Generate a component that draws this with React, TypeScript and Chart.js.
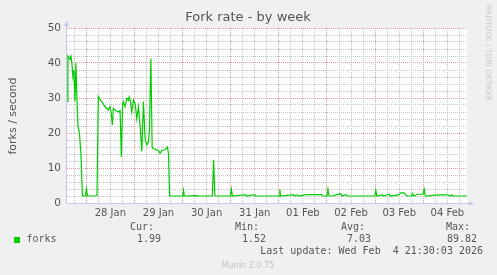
import React, { useEffect, useRef } from "react";
import { Chart, registerables } from "chart.js";

Chart.register(...registerables);

// Hours relative to 28 Jan 00:00
const hours: number[] = [
  -9.6, -9.15, -8.65, -8.15, -7.65, -7.15, -6.65, -6.15, -5.65, -5.15, -4.65, -4.15, -3.4, -2.65, -1.9,
  -0.4, 0.1, 0.6, 4.85, 5.35, 6.0, 6.35, 7.7, 9.35, 11.0, 11.85, 12.35, 13.0, 13.5, 14.35, 16.0, 16.85,
  17.5, 18.1, 18.5, 19.35, 20.2, 21.0, 21.35, 21.85, 22.7, 23.5, 24.35, 25.2, 26.0, 26.85, 27.7, 28.5,
  29.35, 30.2, 31.0, 31.5, 32.2, 32.85, 33.35, 34.35, 35.35, 36.0, 36.85, 37.7, 39.35, 40.5, 41.0, 41.5,
  48.1, 48.5, 48.85, 55.35, 55.85, 62.85, 63.5, 64.1, 64.6, 71.85, 72.35, 72.85, 79.35, 79.85, 84.0, 84.35,
  96.1, 96.5, 96.85, 103.2, 103.7, 105.3, 105.8, 108.85, 110.2, 117.3, 117.8, 120.0, 120.5, 121.0,
  122.5, 126.85, 127.5, 129.35, 130.0, 135.0, 143.85, 144.35, 144.85, 147.7, 148.2, 151.0, 151.5,
  155.85, 156.8, 158.4, 159.35, 160.0, 162.2, 162.7, 163.2, 165.35, 167.85, 168.5, 169.0, 175.35, 180.35,
  181.5, 182.2, 182.9, 189.8,
];

const forks: number[] = [
  29, 42, 41.5, 41, 42, 40, 36, 38, 29, 40, 30, 22, 20, 14, 2,
  2, 4, 2, 2, 2.3, 30.4, 30, 29, 27.5, 26.6, 27.5, 26, 22.3, 27, 26.6, 26, 26.4,
  13.2, 28, 29, 27.5, 29.9, 29.3, 30.3, 29.5, 26, 29.4, 28.5, 24, 27.5, 22, 14.7, 29,
  18, 16.6, 17.5, 21, 41.3, 16, 15.5, 15.4, 15, 15, 14.2, 15, 15.2, 16, 14, 2,
  2, 3.6, 2, 2.1, 2, 2, 12.3, 2.2, 2, 2, 3.9, 2, 2.4, 2, 2.4, 2,
  2, 3.9, 2, 2.4, 2, 2.3, 2, 2.3, 2.4, 2.4, 2, 2, 3.9, 2,
  2, 2.7, 2, 2.4, 2, 2, 2, 3.6, 2, 2.3, 2, 2.5, 2,
  2.3, 2.9, 2.9, 2.3, 2, 2, 2.7, 2, 2.5, 2.5, 3.9, 2, 2.3, 2.3,
  2, 2.3, 2, 2,
];

const dayLabels: string[] = ["28 Jan", "29 Jan", "30 Jan", "31 Jan", "01 Feb", "02 Feb", "03 Feb", "04 Feb"];
const statHeaders: string[] = ["Cur:", "Min:", "Avg:", "Max:"];
const statValues: string[] = ["1.99", "1.52", "7.03", "89.82"];
const seriesName = "forks";
const titleText = "Fork rate - by week";
const yAxisTitle = "forks / second";
const lastUpdate = "Last update: Wed Feb  4 21:30:03 2026";
const footerText = "Munin 2.0.75";
const sideText = "RRDTOOL / TOBI OETIKER";

const X_MIN = -9.6;
const X_MAX = 189.8;
const Y_MAX = 50;
const Y_MINOR = 2;
const Y_MAJOR = 10;
const X_STEP = 6;
const GREEN = "#00CC00";
const MAJOR = "#E39A9A";
const MINOR = "#C4C4C4";
const AXIS = "#C8C8F0";

const isMajorHour = (h: number) => ((h % 24) + 24) % 24 === 0;

const decorPlugin = {
  id: "muninDecor",
  beforeDraw(chart: any) {
    const { ctx, chartArea } = chart;
    ctx.save();
    ctx.fillStyle = "#F0F0F0";
    ctx.fillRect(0, 0, chart.width, chart.height);
    ctx.fillStyle = "#FFFFFF";
    ctx.fillRect(chartArea.left, chartArea.top, chartArea.right - chartArea.left, chartArea.bottom - chartArea.top);
    ctx.restore();
  },
  beforeDatasetsDraw(chart: any) {
    const { ctx, chartArea } = chart;
    const xs = chart.scales.x;
    const ys = chart.scales.y;
    const L = Math.round(chartArea.left);
    const R = Math.round(chartArea.right);
    const T = Math.round(chartArea.top);
    const B = Math.round(chartArea.bottom);
    ctx.save();
    ctx.lineWidth = 1;
    ctx.setLineDash([1, 1]);
    const drawH = (y: number, color: string) => {
      ctx.strokeStyle = color;
      ctx.beginPath();
      ctx.moveTo(L, y + 0.5);
      ctx.lineTo(R, y + 0.5);
      ctx.stroke();
    };
    const drawV = (x: number, color: string) => {
      ctx.strokeStyle = color;
      ctx.beginPath();
      ctx.moveTo(x + 0.5, B);
      ctx.lineTo(x + 0.5, T);
      ctx.stroke();
    };
    const yVals: number[] = [];
    for (let v = Y_MINOR; v <= Y_MAX; v += Y_MINOR) yVals.push(v);
    const xVals: number[] = [];
    for (let h = -X_STEP; h <= X_MAX; h += X_STEP) xVals.push(h);
    yVals.forEach((v) => {
      if (v % Y_MAJOR !== 0) drawH(Math.floor(ys.getPixelForValue(v)), MINOR);
    });
    xVals.forEach((h) => {
      if (!isMajorHour(h)) drawV(Math.floor(xs.getPixelForValue(h)), MINOR);
    });
    yVals.forEach((v) => {
      if (v % Y_MAJOR === 0) drawH(Math.floor(ys.getPixelForValue(v)), MAJOR);
    });
    xVals.forEach((h) => {
      if (isMajorHour(h)) drawV(Math.floor(xs.getPixelForValue(h)), MAJOR);
    });
    ctx.restore();
  },
  afterDraw(chart: any) {
    const { ctx, chartArea } = chart;
    const L = chartArea.left;
    const B = chartArea.bottom;
    const R = chartArea.right;
    ctx.save();
    // axes
    ctx.strokeStyle = AXIS;
    ctx.fillStyle = AXIS;
    ctx.lineWidth = 1;
    ctx.beginPath();
    ctx.moveTo(L - 0.5, B + 0.5);
    ctx.lineTo(L - 0.5, chartArea.top - 4);
    ctx.moveTo(L - 1, B + 0.5);
    ctx.lineTo(R + 4, B + 0.5);
    ctx.stroke();
    ctx.beginPath();
    ctx.moveTo(L - 3, chartArea.top - 2);
    ctx.lineTo(L + 2, chartArea.top - 2);
    ctx.lineTo(L - 0.5, chartArea.top - 7);
    ctx.closePath();
    ctx.fill();
    ctx.beginPath();
    ctx.moveTo(R + 2, B - 2);
    ctx.lineTo(R + 2, B + 3);
    ctx.lineTo(R + 7, B + 0.5);
    ctx.closePath();
    ctx.fill();

    // title
    ctx.fillStyle = "#555555";
    ctx.font = "13px 'DejaVu Sans'";
    ctx.textAlign = "center";
    ctx.textBaseline = "middle";
    ctx.fillText(titleText, 248, 18);

    // y axis title
    ctx.save();
    ctx.translate(13, 116);
    ctx.rotate(-Math.PI / 2);
    ctx.font = "11px 'DejaVu Sans'";
    ctx.fillStyle = "#555555";
    ctx.fillText(yAxisTitle, 0, 0);
    ctx.restore();

    // side text
    ctx.save();
    ctx.translate(488, 53);
    ctx.rotate(Math.PI / 2);
    ctx.font = "7.5px 'DejaVu Sans'";
    ctx.fillStyle = "#C8C8C8";
    ctx.fillText(sideText, 0, 0);
    ctx.restore();

    // legend
    ctx.font = "10px 'DejaVu Sans Mono'";
    ctx.fillStyle = "#555555";
    ctx.textAlign = "right";
    const headerRight = [154, 259, 365, 470];
    const valueRight = [161, 266, 371, 477];
    statHeaders.forEach((h, i) => ctx.fillText(h, headerRight[i], 227));
    statValues.forEach((v, i) => ctx.fillText(v, valueRight[i], 239.5));
    ctx.fillText(lastUpdate, 483, 251.5);
    ctx.textAlign = "left";
    ctx.fillText(seriesName, 26.5, 239.5);
    ctx.fillStyle = GREEN;
    ctx.fillRect(14, 237, 6, 6);

    // footer
    ctx.textAlign = "center";
    ctx.font = "8px 'DejaVu Sans'";
    ctx.fillStyle = "#C0C0C0";
    ctx.fillText(footerText, 248, 266);
    ctx.restore();
  },
};

export default function App() {
  const ref = useRef<HTMLCanvasElement>(null);
  useEffect(() => {
    if (!ref.current) return;
    const points = hours.map((h, i) => ({ x: h, y: forks[i] }));
    const chart = new Chart(ref.current, {
      type: "line",
      data: {
        datasets: [
          {
            label: seriesName,
            data: points,
            borderColor: GREEN,
            borderWidth: 1.2,
            pointRadius: 0,
            tension: 0,
            fill: false,
          },
        ],
      },
      options: {
        animation: false,
        responsive: false,
        devicePixelRatio: 1,
        layout: { padding: { left: 0, top: 28, right: 30, bottom: 0 } },
        plugins: { legend: { display: false }, title: { display: false }, tooltip: { enabled: false } },
        scales: {
          x: {
            type: "linear",
            min: X_MIN,
            max: X_MAX,
            afterBuildTicks: (scale: any) => {
              const t: any[] = [];
              for (let h = -X_STEP; h <= X_MAX; h += X_STEP) t.push({ value: h });
              scale.ticks = t;
            },
            afterFit: (scale: any) => {
              scale.height = 72;
            },
            ticks: {
              autoSkip: false,
              maxRotation: 0,
              minRotation: 0,
              padding: 4,
              color: "#555555",
              font: { family: "'DejaVu Sans'", size: 10 },
              callback: (v: any) => {
                const h = Number(v);
                if (((h % 24) + 24) % 24 === 12) {
                  const d = Math.round((h - 12) / 24);
                  return dayLabels[d] ?? "";
                }
                return "";
              },
            },
            grid: { display: false, drawTicks: false },
            border: { display: false },
          },
          y: {
            type: "linear",
            min: 0,
            max: Y_MAX,
            afterFit: (scale: any) => {
              scale.width = 67;
            },
            ticks: {
              stepSize: Y_MINOR,
              autoSkip: false,
              padding: 6,
              color: "#555555",
              font: { family: "'DejaVu Sans'", size: 10.5 },
              callback: (v: any) => (Number(v) % Y_MAJOR === 0 ? String(v) : ""),
            },
            grid: { display: false, drawTicks: false },
            border: { display: false },
          },
        },
      },
      plugins: [decorPlugin],
    });
    return () => chart.destroy();
  }, []);
  return (
    <div style={{ position: "absolute", left: 0, top: 0, width: 497, height: 275 }}>
      <canvas ref={ref} width={497} height={275} style={{ display: "block" }} />
    </div>
  );
}
